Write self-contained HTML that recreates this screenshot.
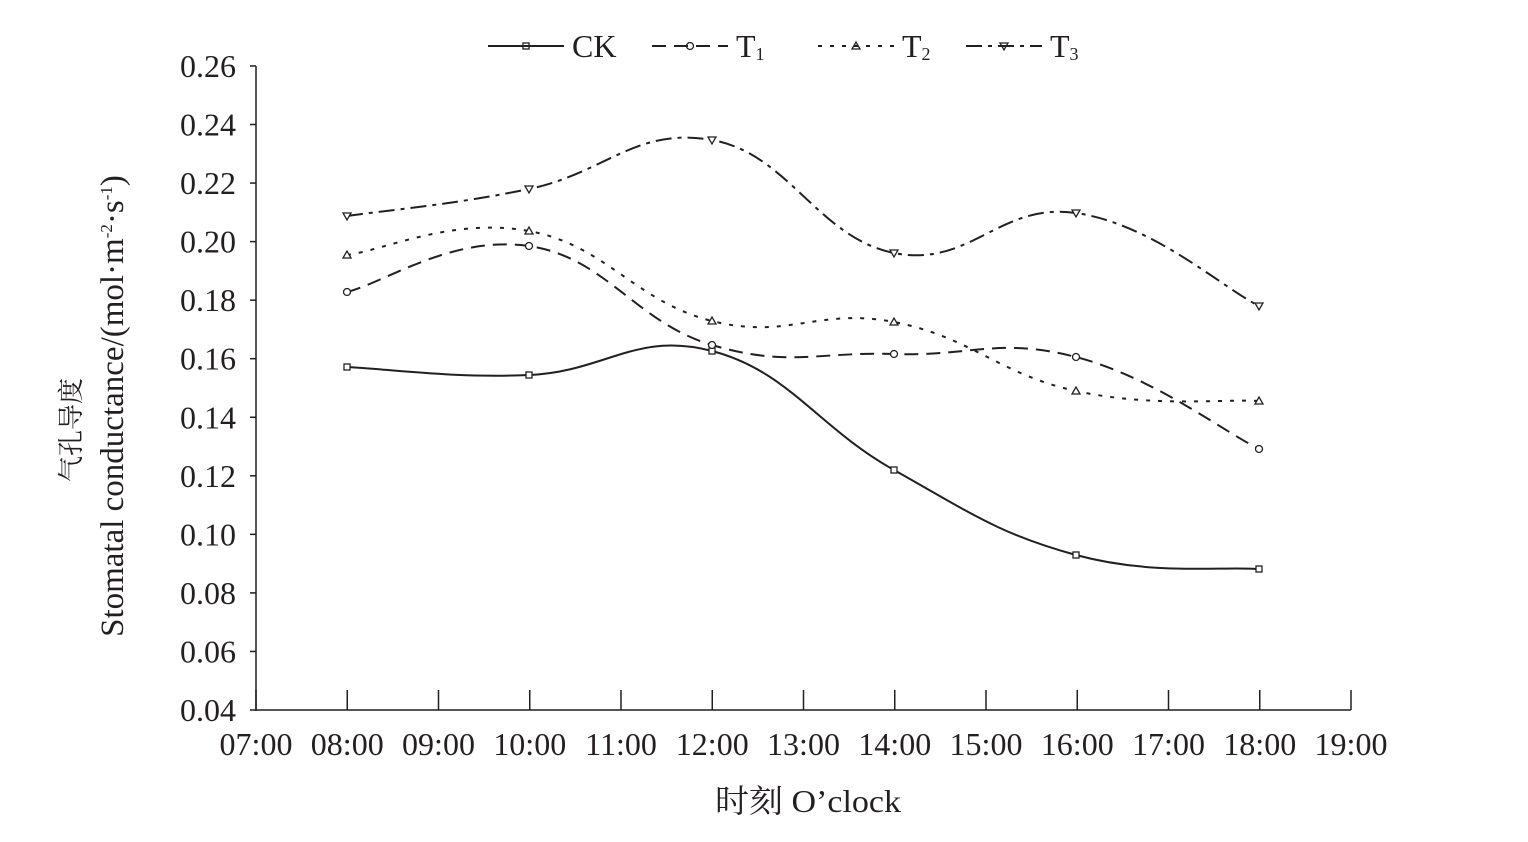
<!DOCTYPE html>
<html><head><meta charset="utf-8"><style>
html,body{margin:0;padding:0;background:#fff;}
svg{display:block;}
text{font-family:"Liberation Serif","Noto Serif CJK SC",serif;fill:#231f20;}
</style></head><body>
<svg id="s" width="1528" height="842" viewBox="0 0 1528 842" xmlns="http://www.w3.org/2000/svg">
<g stroke="#231f20" stroke-width="1.5" fill="none">
<line x1="256" y1="66" x2="256" y2="711"/>
<line x1="256" y1="710" x2="1351" y2="710"/>
</g>
<g id="ticks" stroke="#231f20" stroke-width="1.5"></g>
<g id="labels" font-size="32"></g>
<g id="series"></g>
<text x="715" y="812" font-size="32" textLength="186" lengthAdjust="spacingAndGlyphs">时刻 O’clock</text>
<text transform="translate(80,430) rotate(-90)" x="0" y="0" font-size="26" text-anchor="middle" font-family="Noto Sans CJK SC, sans-serif">气孔导度</text>
<text transform="translate(123,406) rotate(-90)" x="0" y="0" font-size="33" text-anchor="middle">Stomatal conductance/(mol·m<tspan font-size="17" dy="-11">-2</tspan><tspan dy="11">·s</tspan><tspan font-size="17" dy="-11">-1</tspan><tspan dy="11">)</tspan></text>
<g id="legend" font-size="32"></g>
</svg>
<script>
var ns="http://www.w3.org/2000/svg";
function el(p,t,a,txt){var e=document.createElementNS(ns,t);for(var k in a)e.setAttribute(k,a[k]);if(txt!==undefined)e.textContent=txt;document.getElementById(p).appendChild(e);return e;}
var yv=function(v){return 710-(v-0.04)/0.02*58.55;};
for(var i=0;i<=11;i++){var v=0.04+i*0.02,y=yv(v);
 el("ticks","line",{x1:250,y1:y,x2:256,y2:y});
 el("labels","text",{x:236,y:y+11,"text-anchor":"end"},v.toFixed(2));}
for(var h=0;h<=12;h++){var x=256+h*91.25;
 el("ticks","line",{x1:x,y1:710,x2:x,y2:690});
 el("labels","text",{x:x,y:755,"text-anchor":"middle"},(h+7<10?"0":"")+(h+7)+":00");}
var xs=[347,529,712,894,1076,1259];
var S=[
 {y:[367,375,351,470,555,569],d:"",m:"sq"},
 {y:[292,246,345,354,357,449],d:"14 8",m:"ci"},
 {y:[255,231,321,322,391,401],d:"4 8",m:"tu"},
 {y:[216,189,140,253,213,306],d:"16 6 4 6",m:"td"}];
var F=0.21;
function path(ys){var p=[];for(var i=0;i<6;i++)p.push([xs[i],ys[i]]);
 var d="M"+p[0][0]+","+p[0][1];
 for(var i=0;i<5;i++){var p0=p[Math.max(i-1,0)],p1=p[i],p2=p[i+1],p3=p[Math.min(i+2,5)];
  var c1=[p1[0]+(p2[0]-p0[0])*F,p1[1]+(p2[1]-p0[1])*F],c2=[p2[0]-(p3[0]-p1[0])*F,p2[1]-(p3[1]-p1[1])*F];
  d+=" C"+c1+" "+c2+" "+p2;}
 return d;}
function marker(m,x,y){
 var a={fill:"#fff",stroke:"#231f20","stroke-width":1.3};
 if(m=="sq"){a.x=x-3;a.y=y-3;a.width=6;a.height=6;el("series","rect",a);}
 else if(m=="ci"){a.cx=x;a.cy=y;a.r=3.5;el("series","circle",a);}
 else if(m=="tu"){a.points=(x-4)+","+(y+3)+" "+(x+4)+","+(y+3)+" "+x+","+(y-4);el("series","polygon",a);}
 else {a.points=(x-4)+","+(y-3)+" "+(x+4)+","+(y-3)+" "+x+","+(y+4);el("series","polygon",a);}}
S.forEach(function(s){var a={d:path(s.y),fill:"none",stroke:"#231f20","stroke-width":2};if(s.d)a["stroke-dasharray"]=s.d;el("series","path",a);
 for(var i=0;i<6;i++)marker(s.m,xs[i],s.y[i]);});
var L=[[488,"CK",""],[652,"T","1"],[818,"T","2"],[966,"T","3"]];
L.forEach(function(l,i){var s=S[i];var a={x1:l[0],y1:46,x2:l[0]+76,y2:46,stroke:"#231f20","stroke-width":2};if(s.d)a["stroke-dasharray"]=s.d;el("legend","line",a);
 marker(s.m,l[0]+38,46);
 var t=el("legend","text",{x:l[0]+84,y:57},l[1]);
 if(l[2]){var ts=document.createElementNS(ns,"tspan");ts.setAttribute("font-size","18");ts.setAttribute("dy","3");ts.textContent=l[2];t.appendChild(ts);}});
document.getElementById("legend").parentNode.appendChild(document.getElementById("legend"));
</script>
</body></html>
